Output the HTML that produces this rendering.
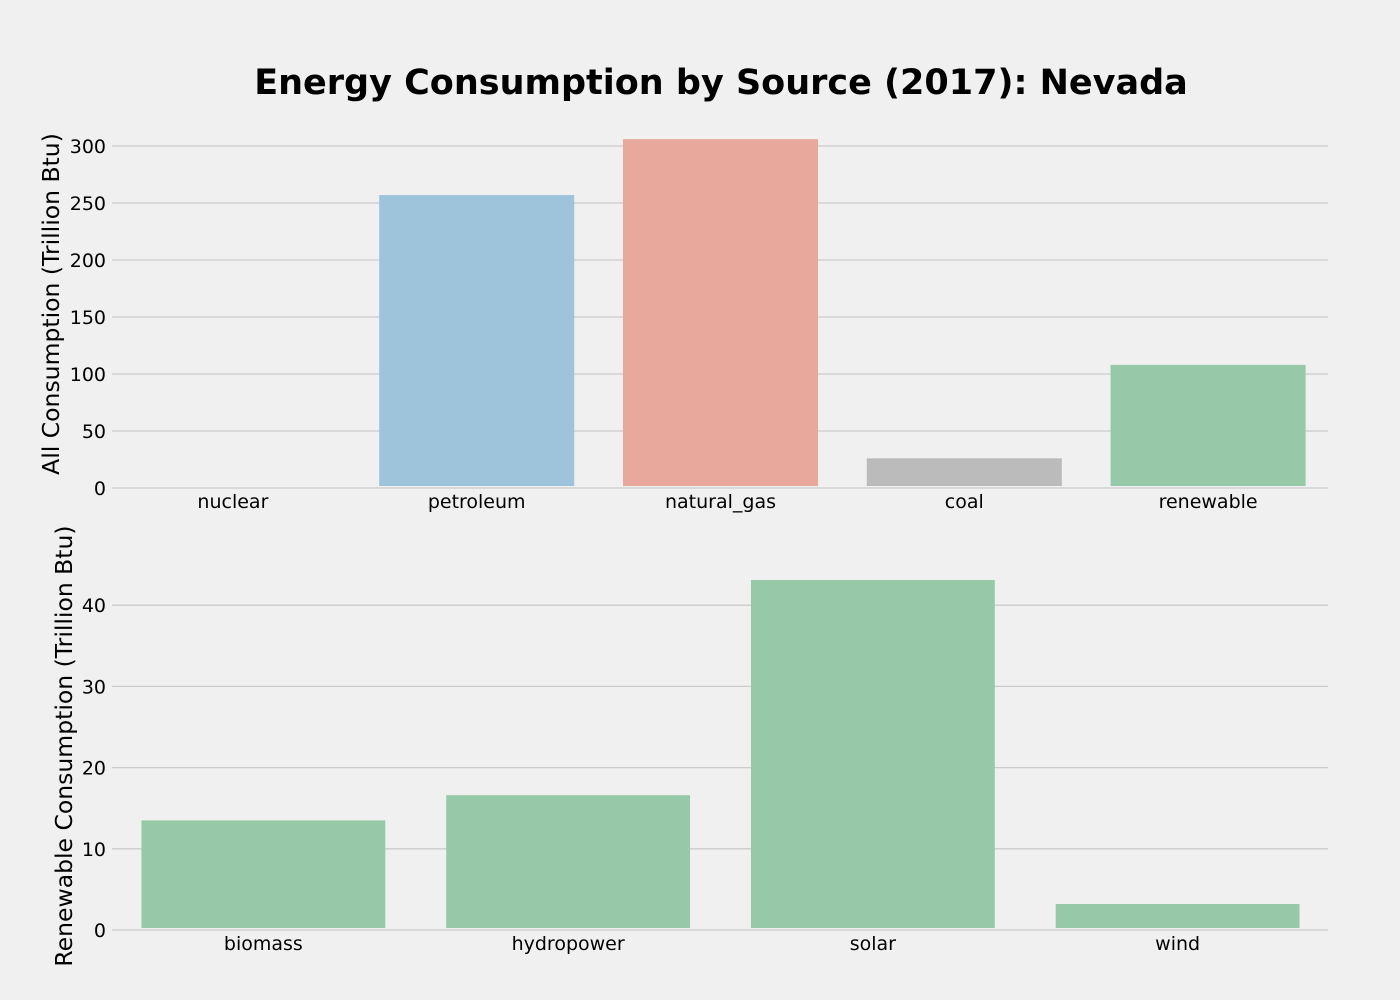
<!DOCTYPE html>
<html><head><meta charset="utf-8"><style>
body{margin:0;background:#f0f0f0;}
svg{display:block;font-family:"DejaVu Sans","Liberation Sans",sans-serif;}
</style></head><body>
<svg id="c" width="1400" height="1000">
<rect width="1400" height="1000" fill="#f0f0f0"/>
<text x="721" y="94" text-anchor="middle" font-size="35" font-weight="bold" fill="#000">Energy Consumption by Source (2017): Nevada</text>
<text transform="translate(59,304) rotate(-90)" text-anchor="middle" font-size="23.5">All Consumption (Trillion Btu)</text>
<text transform="translate(72,746) rotate(-90)" text-anchor="middle" font-size="23.5">Renewable Consumption (Trillion Btu)</text>
<g id="top"></g><g id="bot"></g>
</svg>
<script>
const topCats=["nuclear","petroleum","natural_gas","coal","renewable"];
const topVals=[0,257,306,26,108];
const topColors=["#9ec4dc","#9ec4dc","#e8a89c","#bbbbbb","#95c9a8"];
const topTicks=[0,50,100,150,200,250,300];
const botCats=["biomass","hydropower","solar","wind"];
const botVals=[13.5,16.6,43.1,3.2];
const botTicks=[0,10,20,30,40];
const NS="http://www.w3.org/2000/svg";
function mk(t,a,p){const e=document.createElementNS(NS,t);for(const k in a)e.setAttribute(k,a[k]);p.appendChild(e);return e;}
const L=111,R=1330,GR=1328;
function draw(g,cats,vals,ticks,y0,pxPer,colors,name){
  const n=cats.length,step=(R-L)/n,bw=step*0.8;
  const y=v=>y0-v*pxPer;
  ticks.forEach(t=>{
    const ln=mk("line",{x1:112,x2:GR,y1:y(t),y2:y(t),stroke:"#cbcbcb","stroke-width":1.3},g);
    
    
    const tx=mk("text",{x:106,y:y(t)+7,"text-anchor":"end","font-size":19},g);
    tx.textContent=t;
    
    
  });
  cats.forEach((c,i)=>{
    const cx=L+step*(i+0.5);
    const r=mk("rect",{x:cx-bw/2,y:y(vals[i]),width:bw,height:Math.max(0,vals[i]*pxPer-2),fill:colors[i]},g);
    
    
    const tx=mk("text",{x:cx,y:y0+20,"text-anchor":"middle","font-size":19},g);
    tx.textContent=c;
    
    
  });
}
draw(document.getElementById("top"),topCats,topVals,topTicks,488,342/300,topColors,"top");
draw(document.getElementById("bot"),botCats,botVals,botTicks,930,8.12,botCats.map(()=>"#95c9a8"),"bottom");
</script>
</body></html>
